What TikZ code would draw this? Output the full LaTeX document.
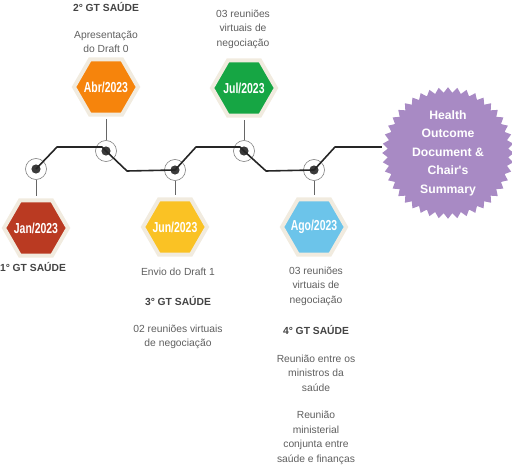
\documentclass[tikz,border=0pt]{standalone}
\usepackage{fontspec}
\setmainfont{Liberation Sans}
\newfontfamily\datefont[FakeStretch=0.72]{Liberation Sans Bold}
\newcommand{\hexdate}[1]{\makebox[0pt]{\datefont\fontsize{14.5}{14.5}\selectfont #1}}
\usetikzlibrary{shapes.geometric}
\definecolor{janred}{RGB}{186,58,34}
\definecolor{abrorange}{RGB}{246,132,12}
\definecolor{junyellow}{RGB}{250,194,36}
\definecolor{julgreen}{RGB}{22,166,68}
\definecolor{agoblue}{RGB}{108,196,234}
\definecolor{starlilac}{RGB}{168,138,196}
\definecolor{hexrim}{RGB}{241,235,223}
\definecolor{txtgrey}{RGB}{95,95,95}
\definecolor{headgrey}{RGB}{68,68,68}
\definecolor{dotgrey}{RGB}{58,58,58}
\tikzset{
  hexa/.style={regular polygon,regular polygon sides=6,minimum size=64pt,inner sep=0pt,draw=hexrim,line width=4pt,text=white},
  tick/.style={circle,draw=black!50,line width=0.6pt,minimum size=21pt,inner sep=0pt,
    path picture={\fill[dotgrey] (path picture bounding box.center) circle (4.6pt);}},
  tline/.style={draw=black!85,line width=1.6pt,line join=round},
  stem/.style={draw=black!60,line width=0.8pt,shorten >=2pt},
  note/.style={font=\fontsize{10.3}{14.5}\selectfont,text=txtgrey,align=center,inner sep=0pt},
  head/.style={note,font=\bfseries\fontsize{10.3}{14.5}\selectfont,text=headgrey},
  outcomestar/.style={star,star points=44,star point ratio=1.09,minimum size=124pt,inner sep=0pt,fill=starlilac,text=white,align=center,font=\bfseries\fontsize{12.2}{18.5}\selectfont}
}
\begin{document}
\begin{tikzpicture}[x=1pt,y=-1pt]
  \useasboundingbox (0,0) rectangle (512,468);
  % timeline ticks
  \node[tick] (jan) at (36,169) {};
  \node[tick] (abr) at (106,151) {};
  \node[tick] (jun) at (175,170) {};
  \node[tick] (jul) at (244,151) {};
  \node[tick] (ago) at (314,170) {};
  % month hexagons
  \node[hexa,fill=janred]    (janhex) at (36,228)  {\hexdate{Jan/2023}};
  \node[hexa,fill=abrorange] (abrhex) at (106,87)  {\hexdate{Abr/2023}};
  \node[hexa,fill=junyellow] (junhex) at (175,227) {\hexdate{Jun/2023}};
  \node[hexa,fill=julgreen]  (julhex) at (244,88)  {\hexdate{Jul/2023}};
  \node[hexa,fill=agoblue]   (agohex) at (314,227) {\hexdate{Ago/2023}};
  \node[outcomestar] (outcome) at (448,153) {Health\\Outcome\\Document \&\\Chair\textquotesingle s\\Summary};
  % the zigzag line
  \draw[tline] (jan.center) -- (57,147) -- (102,147) -- (abr.center) -- (127,171) -- (jun.center)
    -- (196,147) -- (240,147) -- (jul.center) -- (266,171) -- (ago.center)
    -- (335,147) -- (outcome.west |- 335,147);
  \foreach \m in {jan,abr,jun,jul,ago}
    \draw[stem] (\m) -- (\m hex);
  % texts above
  \node[head] (gt2) at (106,7) {2° GT SAÚDE};
  \node[note] (draft0) at (106,42) {Apresentação\\do Draft 0};
  \node[note] (julmeet) at (243,29) {03 reuniões\\virtuais de\\negociação};
  % texts below
  \node[head] (gt1) at (33,267) {1° GT SAÚDE};
  \node[note] (draft1) at (178,272) {Envio do Draft 1};
  \node[head] (gt3) at (178,301) {3° GT SAÚDE};
  \node[note] (junmeet) at (178,337) {02 reuniões virtuais\\de negociação};
  \node[note] (agomeet) at (316,286) {03 reuniões\\virtuais de\\negociação};
  \node[head] (gt4) at (316,330) {4° GT SAÚDE};
  \node[note] (ministers) at (316,373) {Reunião entre os\\ministros da\\saúde};
  \node[note] (joint) at (316,438) {Reunião\\ministerial\\conjunta entre\\saúde e finanças};
\end{tikzpicture}
\end{document}
